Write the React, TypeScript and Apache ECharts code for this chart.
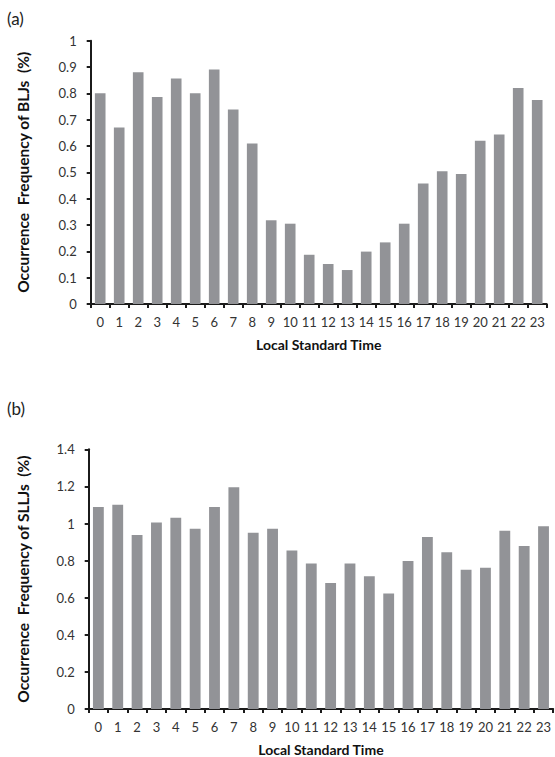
import React, { useEffect, useRef } from "react";
import * as echarts from "echarts";

// Hour of day (local standard time)
const hours = [
  "0", "1", "2", "3", "4", "5", "6", "7", "8", "9", "10", "11",
  "12", "13", "14", "15", "16", "17", "18", "19", "20", "21", "22", "23",
];

// Occurrence frequency (%) of boundary-layer jets per hour
const bljFrequency = [
  0.8, 0.67, 0.88, 0.786, 0.856, 0.8, 0.891, 0.739, 0.61, 0.318, 0.305, 0.187,
  0.152, 0.129, 0.199, 0.234, 0.305, 0.458, 0.504, 0.494, 0.62, 0.644, 0.82, 0.775,
];

// Occurrence frequency (%) of synoptic-system-related low-level jets per hour
const slljFrequency = [
  1.089, 1.101, 0.938, 1.006, 1.031, 0.972, 1.089, 1.195, 0.95, 0.972, 0.855, 0.785,
  0.679, 0.785, 0.715, 0.622, 0.798, 0.927, 0.845, 0.751, 0.762, 0.961, 0.879, 0.985,
];

const panelLabels = ["(a)", "(b)"];
const yTitles = ["Occurrence  Frequency of BLJs  (%)", "Occurrence  Frequency of SLLJs  (%)"];
const xTitle = "Local Standard Time";

const FONT = "Lato";
const BAR = "#929397";
const AXIS = "#1b1b1b";

export default function App() {
  const ref = useRef<HTMLDivElement>(null);

  useEffect(() => {
    if (!ref.current) return;
    const chart = echarts.init(ref.current, undefined, { renderer: "svg" });

    const axisLine = { show: true, lineStyle: { color: AXIS, width: 2 } };
    const axisTick = { show: true, length: 4, lineStyle: { color: AXIS, width: 2 } };
    const tickLabel = { color: "#333", fontFamily: FONT, fontSize: 13 };
    const xTitleStyle = { color: "#111", fontFamily: FONT, fontSize: 14, fontWeight: "bold" as const };
    const yTitleStyle = { ...xTitleStyle, fontSize: 15.5 };

    const makeX = (gridIndex: number) => ({
      type: "category" as const,
      gridIndex,
      data: hours,
      boundaryGap: true,
      axisLine,
      axisTick: { ...axisTick, alignWithLabel: false, interval: 0 },
      axisLabel: { ...tickLabel, interval: 0, margin: 11 },
      splitLine: { show: false },
      name: xTitle,
      nameLocation: "middle" as const,
      nameGap: 33,
      nameTextStyle: xTitleStyle,
    });

    chart.setOption({
      animation: false,
      backgroundColor: "#ffffff",
      grid: [
        { left: 90.7, top: 40.7, width: 456, height: 263.3 },
        { left: 88.7, top: 449.3, width: 464.5, height: 259.7 },
      ],
      xAxis: [makeX(0), makeX(1)],
      yAxis: [
        {
          type: "value",
          gridIndex: 0,
          min: 0,
          max: 1,
          interval: 0.1,
          axisLine,
          axisTick,
          axisLabel: { ...tickLabel, margin: 14 },
          splitLine: { show: false },
          name: yTitles[0],
          nameLocation: "middle",
          nameGap: 60,
          nameTextStyle: yTitleStyle,
        },
        {
          type: "value",
          gridIndex: 1,
          min: 0,
          max: 1.4,
          interval: 0.2,
          axisLine,
          axisTick,
          axisLabel: { ...tickLabel, margin: 14 },
          splitLine: { show: false },
          name: yTitles[1],
          nameLocation: "middle",
          nameGap: 58,
          nameTextStyle: yTitleStyle,
        },
      ],
      series: [
        {
          type: "bar",
          xAxisIndex: 0,
          yAxisIndex: 0,
          data: bljFrequency,
          barCategoryGap: "44%",
          itemStyle: { color: BAR },
        },
        {
          type: "bar",
          xAxisIndex: 1,
          yAxisIndex: 1,
          data: slljFrequency,
          barCategoryGap: "44%",
          itemStyle: { color: BAR },
        },
      ],
      graphic: [
        {
          type: "text",
          left: 7,
          top: 10,
          style: { text: panelLabels[0], fontFamily: FONT, fontSize: 17, fill: "#222" },
        },
        {
          type: "text",
          left: 7,
          top: 400,
          style: { text: panelLabels[1], fontFamily: FONT, fontSize: 17, fill: "#222" },
        },
      ],
    });

    return () => chart.dispose();
  }, []);

  return (
    <div
      ref={ref}
      style={{ position: "absolute", left: 0, top: 0, width: 555, height: 757 }}
    />
  );
}
